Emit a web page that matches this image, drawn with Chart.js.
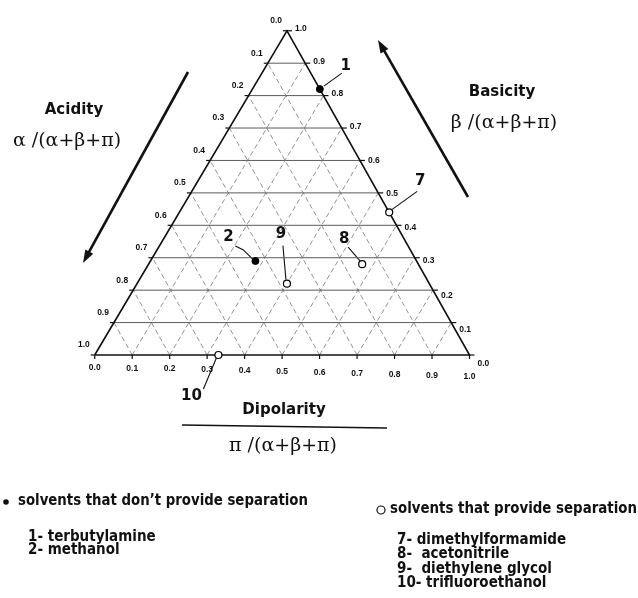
<!DOCTYPE html>
<html>
<head>
<meta charset="utf-8">
<style>
  html, body { margin: 0; padding: 0; background: #fff; }
  #wrap { width: 638px; height: 598px; }
</style>
<script src="https://cdn.jsdelivr.net/npm/chart.js@4.4.1/dist/chart.umd.min.js"></script>
</head>
<body>
<div id="wrap"><canvas id="ternaryChart" width="638" height="598"></canvas></div>
<script>
// grid fractions along each side of the triangle and their printed labels
const fractions = [0, 0.1, 0.2, 0.3, 0.4, 0.5, 0.6, 0.7, 0.8, 0.9, 1.0];
const fractionLabels = ['0.0', '0.1', '0.2', '0.3', '0.4', '0.5', '0.6', '0.7', '0.8', '0.9', '1.0'];

// solvents that don't provide separation (filled markers)
const closedIds = ['1', '2'];
const closedNames = ['terbutylamine', 'methanol'];
const closedAlpha = [0.00, 0.43];
const closedBeta = [0.82, 0.29];
const closedPi = [0.18, 0.28];

// solvents that provide separation (open markers)
const openIds = ['7', '8', '9', '10'];
const openNames = ['dimethylformamide', ' acetonitrile', ' diethylene glycol', 'trifluoroethanol'];
const openAlpha = [0.00, 0.15, 0.38, 0.67];
const openBeta = [0.44, 0.28, 0.22, 0.00];
const openPi = [0.56, 0.57, 0.40, 0.33];

// the apex sits a little right of the base midpoint
const SKEW = 0.513;
function toXY(beta, pi) {
    return { x: pi + SKEW * beta, y: beta };
}

// leader line offsets (px from the marker) and label offsets, per point id
const leaders = {
    '1': { line: [[4, -3], [22, -16]], label: [26, -23] },
    '2': { line: [[-3, -2], [-12, -11], [-20, -15]], label: [-27, -24] },
    '7': { line: [[3, -3], [28, -21]], label: [31, -31] },
    '8': { line: [[-2, -3], [-14, -17]], label: [-18, -25] },
    '9': { line: [[-1, -4], [-4, -38]], label: [-6, -50] },
    '10': { line: [[-2, 3], [-15, 34]], label: [-27, 41] }
};

const datasets = [];

datasets.push({
    label: 'no separation',
    data: closedIds.map((id, i) => toXY(closedBeta[i], closedPi[i])),
    pointRadius: 3.5,
    pointBackgroundColor: '#000',
    pointBorderColor: '#000',
    pointBorderWidth: 1
});
datasets.push({
    label: 'separation',
    data: openIds.map((id, i) => toXY(openBeta[i], openPi[i])),
    pointRadius: 3.5,
    pointBackgroundColor: '#fff',
    pointBorderColor: '#000',
    pointBorderWidth: 1.2
});

// triangle outline
datasets.push({
    label: 'frame',
    data: [toXY(0, 0), toXY(0, 1), toXY(1, 0), toXY(0, 0)],
    showLine: true,
    pointRadius: 0,
    borderColor: '#111',
    borderWidth: 1.6
});

// inner grid: constant beta solid, constant pi / constant alpha dashed
fractions.slice(1, -1).forEach(f => {
    datasets.push({
        label: 'beta ' + f,
        data: [toXY(f, 0), toXY(f, 1 - f)],
        showLine: true, pointRadius: 0,
        borderColor: '#5a5a5a', borderWidth: 1
    });
    datasets.push({
        label: 'pi ' + f,
        data: [toXY(0, f), toXY(1 - f, f)],
        showLine: true, pointRadius: 0,
        borderColor: '#777', borderWidth: 0.8, borderDash: [5, 3]
    });
    datasets.push({
        label: 'alpha ' + f,
        data: [toXY(0, 1 - f), toXY(1 - f, 0)],
        showLine: true, pointRadius: 0,
        borderColor: '#777', borderWidth: 0.8, borderDash: [5, 3]
    });
});

function pixel(chart, beta, pi) {
    const p = toXY(beta, pi);
    return [chart.scales.x.getPixelForValue(p.x), chart.scales.y.getPixelForValue(p.y)];
}

function arrow(ctx, x1, y1, x2, y2) {
    const ang = Math.atan2(y2 - y1, x2 - x1);
    ctx.beginPath();
    ctx.moveTo(x1, y1);
    ctx.lineTo(x2 - 8 * Math.cos(ang), y2 - 8 * Math.sin(ang));
    ctx.stroke();
    ctx.beginPath();
    ctx.moveTo(x2, y2);
    ctx.lineTo(x2 - 13 * Math.cos(ang) + 4.5 * Math.sin(ang), y2 - 13 * Math.sin(ang) - 4.5 * Math.cos(ang));
    ctx.lineTo(x2 - 13 * Math.cos(ang) - 4.5 * Math.sin(ang), y2 - 13 * Math.sin(ang) + 4.5 * Math.cos(ang));
    ctx.closePath();
    ctx.fill();
}

function allPoints() {
    const pts = [];
    closedIds.forEach((id, i) => pts.push([id, closedBeta[i], closedPi[i]]));
    openIds.forEach((id, i) => pts.push([id, openBeta[i], openPi[i]]));
    return pts;
}

const ternaryDecor = {
    id: 'ternaryDecor',
    beforeDatasetsDraw(chart) {
        const ctx = chart.ctx;
        ctx.save();
        ctx.strokeStyle = '#111';
        ctx.lineWidth = 1.1;
        allPoints().forEach(([id, b, p]) => {
            const [x, y] = pixel(chart, b, p);
            const seg = leaders[id].line;
            ctx.beginPath();
            ctx.moveTo(x + seg[0][0], y + seg[0][1]);
            for (let k = 1; k < seg.length; k++) ctx.lineTo(x + seg[k][0], y + seg[k][1]);
            ctx.stroke();
        });
        ctx.restore();
    },
    afterDatasetsDraw(chart) {
        const ctx = chart.ctx;
        ctx.save();
        ctx.strokeStyle = '#111';
        ctx.fillStyle = '#111';
        ctx.lineWidth = 1.2;

        // edge ticks and their labels
        ctx.font = 'bold 8.5px "Liberation Sans", Arial, sans-serif';
        fractions.forEach((f, i) => {
            // left side: alpha
            let [x, y] = pixel(chart, 1 - f, 0);
            ctx.beginPath(); ctx.moveTo(x - 4, y); ctx.lineTo(x, y); ctx.stroke();
            ctx.textAlign = 'right'; ctx.textBaseline = 'middle';
            ctx.fillText(fractionLabels[i], x - 5, y - 10);
            // right side: beta
            [x, y] = pixel(chart, f, 1 - f);
            ctx.beginPath(); ctx.moveTo(x, y); ctx.lineTo(x + 5, y); ctx.stroke();
            ctx.textAlign = 'left';
            ctx.fillText(fractionLabels[i], x + 8, y - 2 + 11 * (1 - f) * (1 - f));
            // bottom: pi
            [x, y] = pixel(chart, 0, f);
            ctx.beginPath(); ctx.moveTo(x, y); ctx.lineTo(x, y + 4); ctx.stroke();
            ctx.textAlign = 'center'; ctx.textBaseline = 'top';
            ctx.fillText(fractionLabels[i], x, y + 8 + 9 * f);
        });

        // point numbers
        ctx.font = 'bold 15px "DejaVu Sans", sans-serif';
        ctx.textAlign = 'center'; ctx.textBaseline = 'middle';
        allPoints().forEach(([id, b, p]) => {
            const [x, y] = pixel(chart, b, p);
            const off = leaders[id].label;
            ctx.fillText(id, x + off[0], y + off[1]);
        });

        // direction arrows
        ctx.lineWidth = 2.6;
        arrow(ctx, 188, 72, 83, 263);
        arrow(ctx, 468, 197, 378, 40);

        // axis names
        ctx.font = 'bold 15px "DejaVu Sans", sans-serif';
        ctx.fillText('Acidity', 74, 110);
        ctx.fillText('Basicity', 502, 92);
        ctx.fillText('Dipolarity', 284, 410);
        ctx.font = '19px "DejaVu Serif", serif';
        ctx.fillText('\u03b1 /(\u03b1+\u03b2+\u03c0)', 67, 141);
        ctx.fillText('\u03b2 /(\u03b1+\u03b2+\u03c0)', 504, 123);
        ctx.fillText('\u03c0 /(\u03b1+\u03b2+\u03c0)', 283, 446);
        ctx.lineWidth = 1.5;
        ctx.beginPath(); ctx.moveTo(182, 425); ctx.lineTo(387, 428); ctx.stroke();

        // key below the diagram
        ctx.textAlign = 'left';
        ctx.font = 'bold 15px "Liberation Sans Narrow", "DejaVu Sans Condensed", sans-serif';
        ctx.beginPath(); ctx.arc(6, 502, 2.8, 0, Math.PI * 2); ctx.fill();
        ctx.fillText('solvents that don\u2019t provide separation', 18, 501, 290);
        ctx.lineWidth = 1.2;
        ctx.beginPath(); ctx.arc(381, 510, 4, 0, Math.PI * 2); ctx.stroke();
        ctx.fillText('solvents that provide separation', 390, 509, 247);
        closedIds.forEach((id, i) => ctx.fillText(id + '- ' + closedNames[i], 28, 537 + i * 13));
        openIds.forEach((id, i) => ctx.fillText(id + '- ' + openNames[i], 397, 540 + i * 14.5));
        ctx.restore();
    }
};

new Chart(document.getElementById('ternaryChart').getContext('2d'), {
    type: 'scatter',
    data: { datasets: datasets },
    options: {
        responsive: false,
        animation: false,
        events: [],
        layout: { padding: 0 },
        plugins: { legend: { display: false }, tooltip: { enabled: false } },
        scales: {
            x: { type: 'linear', display: false, min: -91 / 381, max: -91 / 381 + 638 / 381 },
            y: { type: 'linear', display: false, min: 1 + 26 / 330 - 598 / 330, max: 1 + 26 / 330 }
        }
    },
    plugins: [ternaryDecor]
});
</script>
</body>
</html>
